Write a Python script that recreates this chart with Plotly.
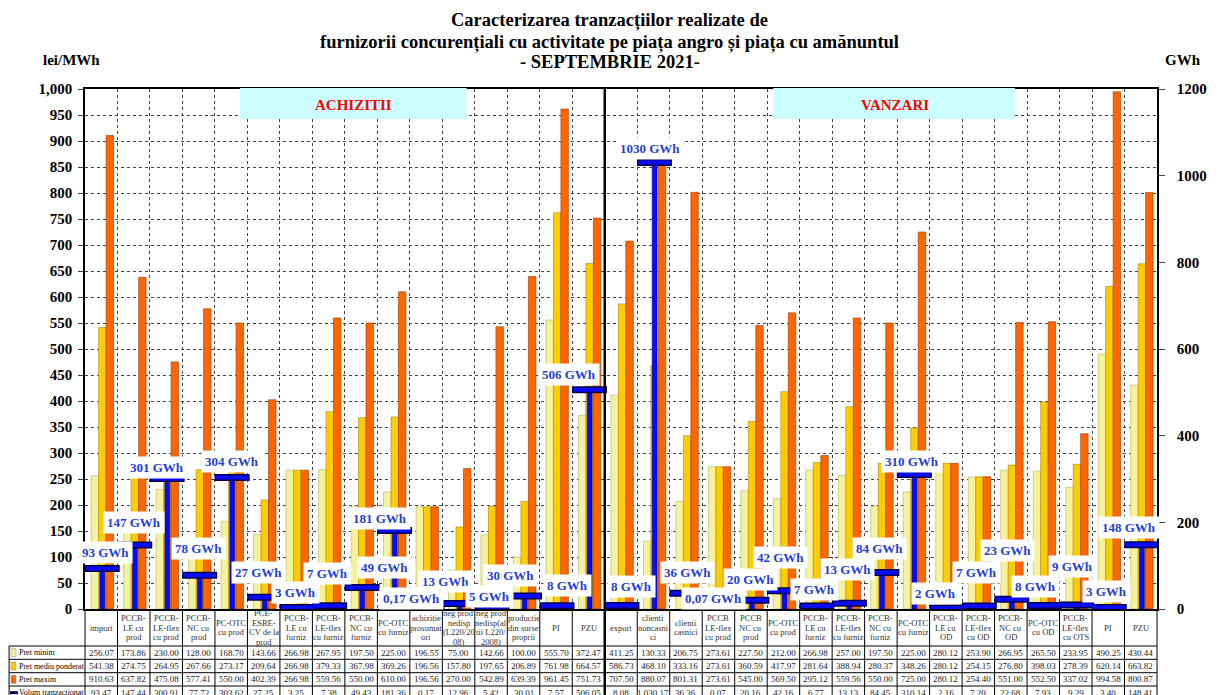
import plotly.graph_objects as go

# capete de tabel (categorii) - 16 achizitii + 17 vanzari
categorii = [
    "import", "PCCB-<br>LE cu<br>prod", "PCCB-<br>LE-flex<br>cu prod", "PCCB-<br>NC cu<br>prod",
    "PC-OTC<br>cu prod", "PCE-<br>ESRE-<br>CV de la<br>prod", "PCCB-<br>LE cu<br>furniz",
    "PCCB-<br>LE-flex<br>cu furniz", "PCCB-<br>NC cu<br>furniz", "PC-OTC<br>cu furniz",
    "achizitie<br>prosumat<br>ori", "neg prod<br>nedisp<br>(L220/20<br>08)",
    "neg prod<br>nedisp(al<br>tii L220/<br>2008)", "productie<br>din surse<br>proprii", "PI", "PZU",
    "export", "clienti<br>noncasni<br>ci", "clienti<br>casnici", "PCCB<br>LE-flex<br>cu prod",
    "PCCB<br>NC cu<br>prod", "PC-OTC<br>cu prod", "PCCB-<br>LE cu<br>furniz", "PCCB-<br>LE-flex<br>cu furniz",
    "PCCB-<br>NC cu<br>furniz", "PC-OTC<br>cu furniz", "PCCB-<br>LE cu<br>OD", "PCCB-<br>LE-flex<br>cu OD",
    "PCCB-<br>NC cu<br>OD", "PC-OTC<br>cu OD", "PCCB-<br>LE-flex<br>cu OTS", "PI", "PZU",
]

pret_minim = [256.07, 173.86, 230.00, 128.00, 168.70, 143.66, 266.98, 267.95, 197.50, 225.00, 196.55,
              75.00, 142.66, 100.00, 555.70, 372.47, 411.25, 130.33, 206.75, 273.61, 227.50, 212.00,
              266.98, 257.00, 197.50, 225.00, 280.12, 253.90, 266.95, 265.50, 233.95, 490.25, 430.44]
pret_mediu = [541.38, 274.75, 264.95, 267.66, 273.17, 209.64, 266.98, 379.33, 367.98, 369.26, 196.56,
              157.80, 197.65, 206.89, 761.98, 664.57, 586.73, 468.10, 333.16, 273.61, 360.59, 417.97,
              281.64, 388.94, 280.37, 348.26, 280.12, 254.15, 276.80, 398.03, 278.39, 620.14, 663.82]
pret_maxim = [910.63, 637.82, 475.08, 577.41, 550.00, 402.39, 266.98, 559.56, 550.00, 610.00, 196.56,
              270.00, 542.89, 639.39, 961.45, 751.73, 707.50, 880.07, 801.31, 273.61, 545.00, 569.50,
              295.12, 559.56, 550.00, 725.00, 280.12, 254.40, 551.00, 552.50, 337.02, 994.58, 800.87]
volum = [93.47, 147.44, 300.91, 77.72, 303.62, 27.25, 3.25, 7.38, 49.43, 181.36, 0.17,
         12.96, 5.42, 30.01, 7.57, 506.05, 8.08, 1030.17, 36.36, 0.07, 20.16, 42.16,
         6.77, 13.13, 84.45, 310.14, 2.16, 7.20, 22.68, 7.93, 9.29, 3.40, 148.41]

# deplasarea etichetelor "xx GWh" fata de capac (pixeli)
eticheta_dx = [4.5, 0, -9, 0, 1, -5, -1, -1, 23, -14, -15, -13, -2, -13, 11, -19.5, 10.5, -3, 2, -5,
               0, -3, -1, -1, -1, -1, -10, -2, -3, -8, -3, -1.5, -11.5]
eticheta_dy = [16.5, 23, 11.6, 27, 16, 25, 15, 32, 20, 12, 10, 22, 10, 21, 20, 15, 19.5, 13.6, 21, 10,
               21, 33, 17, 34, 24, 13.6, 15, 33, 49, 19, 38, 16.5, 17]

FONT = "Liberation Serif, Times New Roman, serif"
W, H = 1219, 695
OFF = 8  # marginea implicita a paginii html
L, R, T, B = 85, 1172, 89, 609
n = len(categorii)
cw = (R - L) / n
idx = list(range(n))


def px(x):
    return (x - L) / (R - L)


def py(y):
    return (B - y) / (B - T)


def eticheta(v):
    if v < 1:
        return f"{v:.2f}".replace(".", ",") + " GWh"
    return f"{round(v)} GWh"


def text_pagina(x, y, text, size, color="black", xanchor="center"):
    return dict(x=px(x), y=py(y), xref="paper", yref="paper", xanchor=xanchor, yanchor="middle",
                showarrow=False, text=text, align="center", font=dict(family=FONT, size=size, color=color))


fig = go.Figure()
fig.add_trace(go.Bar(x=idx, y=pret_minim, width=0.23, offset=-0.31, name="Pret minim",
                     marker=dict(color="#F6F29C", line=dict(color="#B5AE6A", width=0.6))))
fig.add_trace(go.Bar(x=idx, y=pret_mediu, width=0.23, offset=-0.08, name="Pret mediu ponderat",
                     marker=dict(color="#FFCC00", line=dict(color="#A98400", width=0.6))))
fig.add_trace(go.Bar(x=idx, y=pret_maxim, width=0.23, offset=0.15, name="Pret maxim",
                     marker=dict(color="#FF6600", line=dict(color="#9A3800", width=0.6))))
fig.add_trace(go.Bar(x=idx, y=volum, width=0.15, offset=-0.04, yaxis="y2", name="Volum tranzactionat",
                     marker=dict(color="#0A0AFF", line=dict(color="#000070", width=0.6))))
fig.add_trace(go.Scatter(x=[i + 0.03 for i in idx], y=volum, yaxis="y2", mode="markers",
                         marker=dict(symbol="line-ew", size=25, line=dict(color="#000050", width=7)),
                         showlegend=False, hoverinfo="skip"))
fig.add_trace(go.Scatter(x=[i + 0.03 for i in idx], y=volum, yaxis="y2", mode="markers",
                         marker=dict(symbol="line-ew", size=23, line=dict(color="#0A0AFF", width=4)),
                         showlegend=False, hoverinfo="skip"))

ann = []
# etichete volum
for i, v in enumerate(volum):
    ann.append(dict(x=i, y=v, xref="x", yref="y2", xanchor="center", yanchor="middle",
                    text=f"<b>{eticheta(v)}</b>", showarrow=False,
                    xshift=eticheta_dx[i], yshift=eticheta_dy[i], bgcolor="white", borderpad=3,
                    font=dict(family=FONT, size=13, color="#1F3FD6")))

# titlu
ann.append(text_pagina(617, 20, "<b>Caracterizarea tranzacțiilor realizate de</b>", 18.5))
ann.append(text_pagina(617, 42, "<b>furnizorii concurențiali cu activitate pe piața angro și piața cu amănuntul</b>", 18.5))
ann.append(text_pagina(617, 62, "<b>- SEPTEMBRIE 2021-</b>", 18.5))
ann.append(text_pagina(71, 60, "<b>lei/MWh</b>", 15))
ann.append(text_pagina(1198, 60, "<b>GWh</b>", 15))
ann.append(text_pagina(357, 105, "<b>ACHIZITII</b>", 15, "#FF0000"))
ann.append(text_pagina(906, 105, "<b>VANZARI</b>", 15, "#FF0000"))

shapes = [
    dict(type="rect", xref="paper", yref="paper", x0=px(242), x1=px(472), y0=py(119), y1=py(88),
         fillcolor="#CCFFFF", line=dict(width=0), layer="above"),
    dict(type="rect", xref="paper", yref="paper", x0=px(783), x1=px(1028), y0=py(119), y1=py(88),
         fillcolor="#CCFFFF", line=dict(width=0), layer="above"),
]

# tabel
rand_y = [646, 659.3, 672.7, 686, 699.3]
for y in rand_y[:-1]:
    shapes.append(dict(type="line", xref="paper", yref="paper", x0=px(8), x1=px(R), y0=py(y), y1=py(y),
                       line=dict(color="black", width=1)))
shapes.append(dict(type="line", xref="paper", yref="paper", x0=px(8), x1=px(8), y0=py(646), y1=py(700),
                   line=dict(color="black", width=1)))
for k in range(n + 1):
    xk = L + k * cw
    y_top = T if k == 16 else B
    shapes.append(dict(type="line", xref="paper", yref="paper", x0=px(xk), x1=px(xk),
                       y0=py(y_top), y1=py(700),
                       line=dict(color="black", width=2.5 if k == 16 else 1)))

# capul de tabel: fiecare rand de text separat, pas 9.5 px
for i, c in enumerate(categorii):
    linii = c.split("<br>")
    y0 = 627.5 - (len(linii) - 1) * 9.5 / 2
    for j, t in enumerate(linii):
        ann.append(text_pagina(L + (i + 0.5) * cw, y0 + j * 9.5, t, 8.5, "#333333"))

serii = [("Pret minim", pret_minim, "#F6F29C"), ("Pret mediu ponderat", pret_mediu, "#FFCC00"),
         ("Pret maxim", pret_maxim, "#FF6600"), ("Volum tranzactionat", volum, None)]
for r, (nume, vals, col) in enumerate(serii):
    yc = (rand_y[r] + rand_y[r + 1]) / 2
    if col:
        shapes.append(dict(type="rect", xref="paper", yref="paper", x0=px(10), x1=px(15),
                           y0=py(yc + 4), y1=py(yc - 4), fillcolor=col, line=dict(color="#888", width=0.5)))
    else:
        shapes.append(dict(type="line", xref="paper", yref="paper", x0=px(9), x1=px(17),
                           y0=py(yc), y1=py(yc), line=dict(color="#000050", width=3)))
    ann.append(text_pagina(16, yc, nume, 8, xanchor="left"))
    for i, v in enumerate(vals):
        ann.append(text_pagina(L + (i + 0.5) * cw, yc, f"{v:,.2f}", 9, "#222222"))

fig.update_layout(
    width=W - OFF, height=H - OFF,
    margin=dict(l=L - OFF, r=W - R, t=T - OFF, b=H - B),
    paper_bgcolor="white", plot_bgcolor="white",
    barmode="overlay", showlegend=False, hovermode=False,
    font=dict(family=FONT, color="black"),
    xaxis=dict(range=[-0.5, n - 0.5], tickvals=[i + 0.5 for i in range(n - 1)], showticklabels=False,
               ticks="", showgrid=True, griddash="dot", gridcolor="#444444", gridwidth=1,
               showline=True, mirror=True, linecolor="black", linewidth=1.5, zeroline=False),
    yaxis=dict(range=[0, 1000], dtick=50, tickformat=",", ticks="outside", ticklen=5,
               ticklabelstandoff=3,
               showgrid=True, griddash="dot", gridcolor="#444444", gridwidth=1,
               showline=True, linecolor="black", linewidth=1.5, zeroline=False,
               tickfont=dict(family=FONT, size=15, weight="bold")),
    yaxis2=dict(range=[0, 1200], dtick=200, overlaying="y", side="right", ticks="outside", ticklen=6,
                ticklabelstandoff=9,
                showgrid=False, showline=True, linecolor="black", linewidth=1.5, zeroline=False,
                tickfont=dict(family=FONT, size=15, weight="bold")),
    annotations=ann, shapes=shapes,
)

fig.write_html("out.html")
